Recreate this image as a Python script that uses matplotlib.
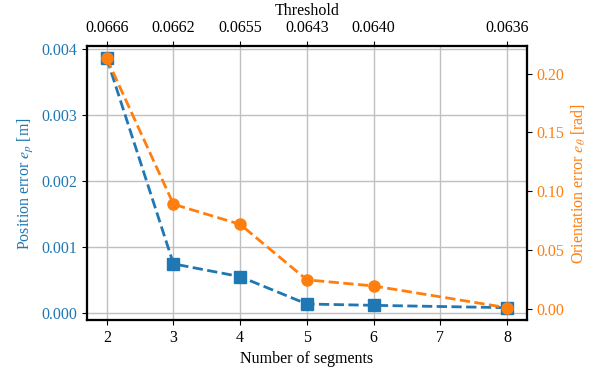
import matplotlib
matplotlib.use("Agg")
import matplotlib.pyplot as plt

plt.rcParams['font.family'] = ['Liberation Serif', 'DejaVu Serif']
plt.rcParams['mathtext.fontset'] = 'stix'
plt.rcParams['font.size'] = 11.5

segments = [2, 3, 4, 5, 6, 8]
pos_err = [0.003863, 0.000742, 0.000548, 0.000132, 0.000112, 0.000076]
ori_err = [0.2128, 0.0888, 0.0717, 0.0245, 0.0193, 0.0008]
thresholds = ['0.0666', '0.0662', '0.0655', '0.0643', '0.0640', '0.0636']
bottom_ticks = [2, 3, 4, 5, 6, 7, 8]

blue = '#1f77b4'
orange = '#ff7f0e'

fig = plt.figure(figsize=(6.11, 3.68), dpi=100)
ax1 = fig.add_axes([0.142, 0.130, 0.7205, 0.745])
ax1.plot(segments, pos_err, '--s', color=blue, lw=2, ms=8)
ax1.set_xlabel('Number of segments')
ax1.set_ylabel(r'Position error $e_p$ [m]', color=blue)
ax1.set_xticks(bottom_ticks)
ax1.set_yticks([0, 0.001, 0.002, 0.003, 0.004])
ax1.grid(True, color='#c0c0c0', lw=1)
for lab in ax1.get_yticklabels():
    lab.set_color(blue)

ax2 = ax1.twinx()
ax2.plot(segments, ori_err, '--o', color=orange, lw=2, ms=8)
ax2.set_ylabel(r'Orientation error $e_\theta$ [rad]', color=orange)
ax2.set_yticks([0, 0.05, 0.10, 0.15, 0.20])
for lab in ax2.get_yticklabels():
    lab.set_color(orange)

ax3 = ax1.twiny()
ax3.set_xlim(ax1.get_xlim())
ax3.set_xticks(segments)
ax3.set_xticklabels(thresholds)
ax3.set_xlabel('Threshold')

for ax in (ax1, ax2, ax3):
    for s in ax.spines.values():
        s.set_linewidth(1.5)

fig.savefig('out.png', dpi=100)
